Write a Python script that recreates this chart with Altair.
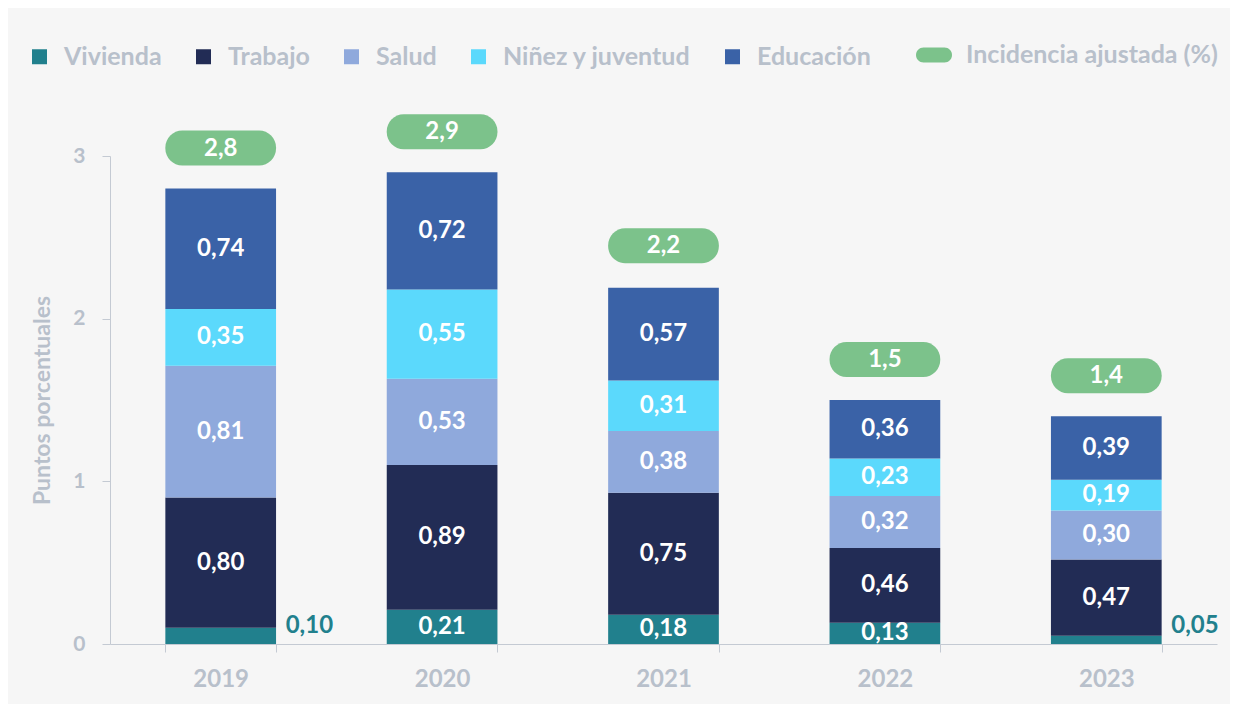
import altair as alt
import pandas as pd

years = ["2019", "2020", "2021", "2022", "2023"]
categories = ["Vivienda", "Trabajo", "Salud", "Niñez y juventud", "Educación"]
colors = ["#21808d", "#222c55", "#8fa9dc", "#5bd9fc", "#3a62a7"]
vivienda = [0.10, 0.21, 0.18, 0.13, 0.05]
trabajo = [0.80, 0.89, 0.75, 0.46, 0.47]
salud = [0.81, 0.53, 0.38, 0.32, 0.30]
ninez = [0.35, 0.55, 0.31, 0.23, 0.19]
educacion = [0.74, 0.72, 0.57, 0.36, 0.39]
incidencia = [2.8, 2.9, 2.2, 1.5, 1.4]
incid_label = "Incidencia ajustada (%)"
incid_color = "#7cc28b"

FONT = "Lato"
GREY = "#b8c0cb"
AXIS_LINE = "#c4cad3"
PILL = ("M -0.583 -0.417 L 0.583 -0.417 A 0.417 0.417 0 0 1 0.583 0.417 "
        "L -0.583 0.417 A 0.417 0.417 0 0 1 -0.583 -0.417 Z")

series = [vivienda, trabajo, salud, ninez, educacion]
rows = []
for ci, (cat, vals) in enumerate(zip(categories, series)):
    for yi, yr in enumerate(years):
        v = vals[yi]
        rows.append({
            "year": yr, "cat": cat, "order": ci, "value": v,
            "label": f"{v:.2f}".replace(".", ","),
            "inside": bool(v >= 0.12),
        })
df = pd.DataFrame(rows)

tot = pd.DataFrame({
    "year": years, "total": incidencia, "serie": [incid_label] * len(years),
    "label": [f"{v:.1f}".replace(".", ",") for v in incidencia],
})

legend_common = dict(
    orient="none", direction="horizontal", title=None, padding=0,
    labelFont=FONT, labelFontSize=25, labelFontWeight="bold", labelColor=GREY,
    labelLimit=400, symbolStrokeWidth=0, symbolOpacity=1,
)

color_scale = alt.Scale(domain=categories, range=colors)
x_enc = alt.X(
    "year:N",
    scale=alt.Scale(paddingInner=0.5, paddingOuter=0.25),
    axis=alt.Axis(
        title=None, labelAngle=0, tickBand="extent", tickSize=8, tickColor=AXIS_LINE,
        domainColor=AXIS_LINE, labelPadding=15, labelFontSize=24, labelColor=GREY,
        labelFontWeight="bold", labelFont=FONT,
    ),
)
y_scale = alt.Scale(domain=[0, 3], nice=False)

base = alt.Chart(df).transform_stack(
    stack="value", as_=["y0", "y1"], groupby=["year"],
    sort=[alt.SortField("order", order="ascending")],
).transform_calculate(mid="(datum.y0 + datum.y1) / 2")

bars = base.mark_bar().encode(
    x=x_enc,
    y=alt.Y(
        "y0:Q", scale=y_scale,
        axis=alt.Axis(
            values=[0, 1, 2, 3], format="d", grid=False, tickSize=8, tickColor=AXIS_LINE,
            domainColor=AXIS_LINE, labelPadding=17, labelFontSize=21, labelColor=GREY,
            labelFontWeight="bold", labelFont=FONT, title="Puntos porcentuales",
            titleFontSize=23, titleColor=GREY, titleFontWeight="bold", titleFont=FONT,
            titlePadding=18,
        ),
    ),
    y2="y1:Q",
    color=alt.Color(
        "cat:N", scale=color_scale,
        legend=alt.Legend(legendX=-83, legendY=-112, symbolType="square",
                          symbolSize=225, columnPadding=29, labelOffset=12,
                          **legend_common),
    ),
    order=alt.Order("order:Q"),
)

inside_text = base.transform_filter("datum.inside").mark_text(
    color="white", font=FONT, fontSize=24, fontWeight="bold", baseline="middle",
).encode(x="year:N", y=alt.Y("mid:Q", scale=y_scale), text="label:N")

outside_text = base.transform_filter("!datum.inside").mark_text(
    color=colors[0], font=FONT, fontSize=24, fontWeight="bold", baseline="middle",
    align="left", dx=65, dy=-18,
).encode(x="year:N", y=alt.Y("y0:Q", scale=y_scale), text="label:N")

pills = alt.Chart(tot).mark_bar(
    cornerRadius=17, yOffset=-23, y2Offset=-58, color=incid_color
).encode(
    x="year:N",
    y=alt.Y("total:Q", scale=y_scale, stack=None),
    y2="total:Q",
)

pill_key = alt.Chart(tot).mark_point(
    filled=True, size=0, opacity=0, color=incid_color
).encode(
    x="year:N",
    y=alt.Y("total:Q", scale=y_scale, stack=None),
    shape=alt.Shape(
        "serie:N", scale=alt.Scale(range=[PILL]),
        legend=alt.Legend(legendX=806, legendY=-119, symbolSize=1296, labelOffset=14,
                          symbolFillColor=incid_color, **legend_common),
    ),
)

pill_text = alt.Chart(tot).mark_text(
    color="white", font=FONT, fontSize=24, fontWeight="bold", baseline="middle", dy=-40,
).encode(x="year:N", y=alt.Y("total:Q", scale=y_scale, stack=None), text="label:N")

chart = alt.layer(bars, inside_text, outside_text, pills, pill_key, pill_text).properties(
    width=1107, height=488, autosize="none",
    padding={"left": 102, "top": 148, "right": 13, "bottom": 60},
    background="#f6f6f6",
).configure(font=FONT).configure_view(stroke=None)

chart.save("out.html", embed_options={"renderer": "svg", "actions": False})
